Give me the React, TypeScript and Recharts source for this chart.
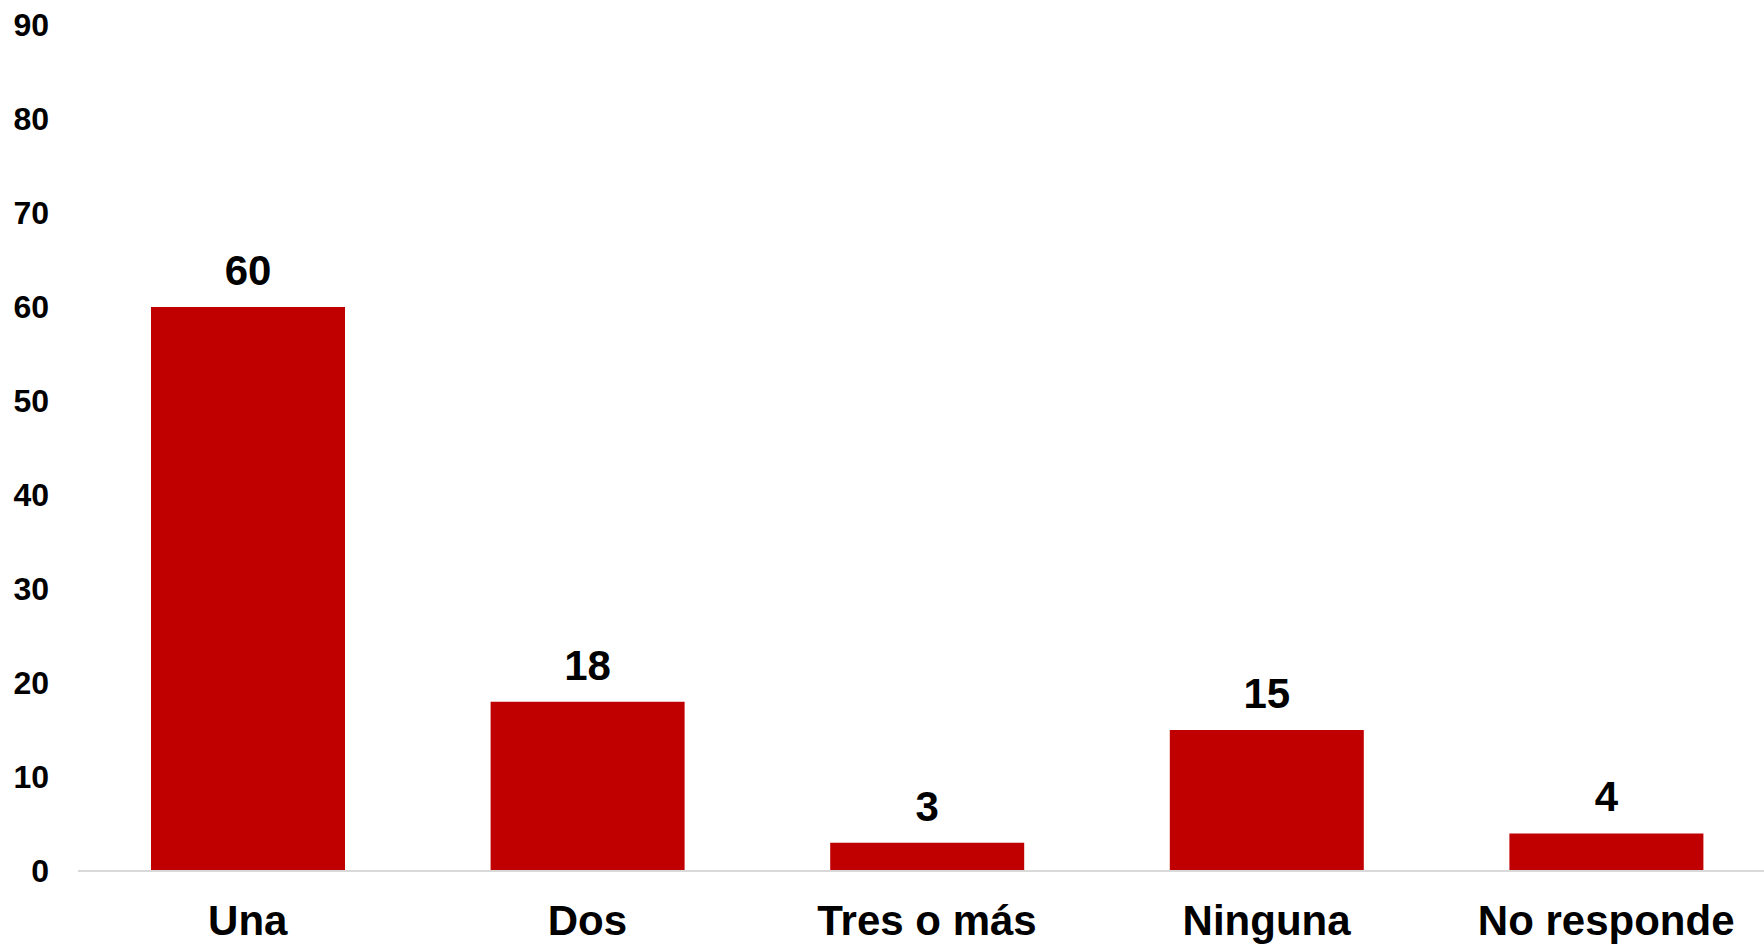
import { BarChart, Bar, XAxis, YAxis, LabelList } from 'recharts';

const categories = ['Una', 'Dos', 'Tres o más', 'Ninguna', 'No responde'];
const values = [60, 18, 3, 15, 4];
const yTicks = [0, 10, 20, 30, 40, 50, 60, 70, 80, 90];

const data = categories.map((name, i) => ({ name, value: values[i] }));

const font = '"Liberation Sans", Arial, sans-serif';

export default function App() {
  return (
    <div
      style={{
        position: 'absolute',
        left: 0,
        top: 0,
        width: 1764,
        height: 944,
        overflow: 'hidden',
        background: '#ffffff',
        fontFamily: font,
      }}
    >
      <BarChart
        width={1776}
        height={944}
        data={data}
        margin={{ top: 25, right: 0, bottom: 0, left: 0 }}
        barCategoryGap={0}
      >
        <XAxis
          dataKey="name"
          height={73}
          axisLine={{ stroke: '#d9d9d9', strokeWidth: 2 }}
          tickLine={false}
          tickSize={0}
          tickMargin={34}
          interval={0}
          tick={{ fill: '#000000', fontSize: 42, fontWeight: 'bold', fontFamily: font }}
        />
        <YAxis
          width={78}
          domain={[0, 90]}
          ticks={yTicks}
          axisLine={false}
          tickLine={false}
          tickSize={0}
          tickMargin={29}
          tick={{ fill: '#000000', fontSize: 32, fontWeight: 'bold', fontFamily: font }}
        />
        <Bar dataKey="value" fill="#c00000" barSize={194} isAnimationActive={false}>
          <LabelList
            dataKey="value"
            position="top"
            offset={22}
            fill="#000000"
            style={{ fontSize: 42, fontWeight: 'bold', fontFamily: font }}
          />
        </Bar>
      </BarChart>
    </div>
  );
}
